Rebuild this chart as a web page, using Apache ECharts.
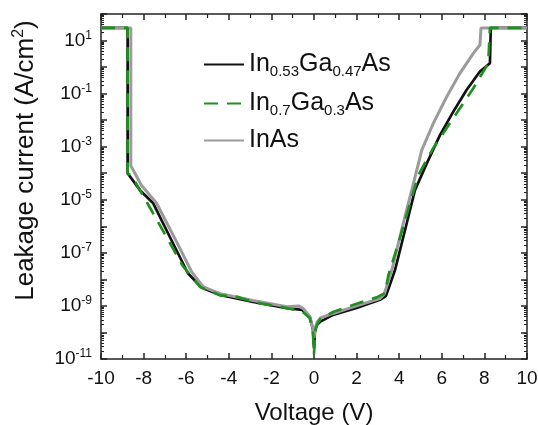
<!DOCTYPE html>
<html>
<head>
<meta charset="utf-8">
<script src="https://cdn.jsdelivr.net/npm/echarts@6/dist/echarts.min.js"></script>
<style>
html, body { margin: 0; padding: 0; background: #fff; }
#chart { width: 538px; height: 425px; }
</style>
</head>
<body>
<div id="chart"></div>
<script>
// leakage current density (A/cm^2) vs voltage (V)
var names = ['In0.53Ga0.47As', 'In0.7Ga0.3As', 'InAs'];

var v053 = [-10, -8.75, -8.75, -8.17, -7.56, -6.62, -5.92, -5.26, -4.41, -2.86, -1.27, -0.56, -0.19, -0.05, 0, 0.05, 0.15, 0.28, 0.89, 2.0, 3.1, 3.38, 3.8, 4.12, 4.43, 4.74, 5.29, 5.92, 6.54, 7.17, 7.79, 8.26, 8.3, 8.3, 10];
var j053 = [30, 30, 1.0e-4, 2.3e-5, 7.6e-6, 2.3e-7, 1.7e-8, 4.8e-9, 2.6e-9, 1.4e-9, 8.3e-10, 7.1e-10, 3.8e-10, 1.3e-10, 2.5e-11, 1.3e-10, 2.0e-10, 2.5e-10, 4.6e-10, 8.3e-10, 1.7e-9, 2.4e-9, 2.2e-8, 2.3e-7, 2.3e-6, 2.3e-5, 2.3e-4, 2.8e-3, 2.1e-2, 1.4e-1, 6.8e-1, 1.4, 1.6, 30, 30];

var v07 = [-10, -8.75, -8.75, -8.53, -7.82, -7.0, -6.16, -5.35, -4.41, -3.6, -2.86, -1.27, -0.56, -0.2, -0.05, 0, 0.05, 0.15, 0.3, 0.89, 2.0, 2.94, 3.33, 3.49, 3.96, 4.51, 4.9, 5.6, 6.46, 7.48, 8.18, 8.26, 8.26, 10];
var j07 = [30, 30, 1.0e-4, 7.4e-5, 7.4e-6, 5.1e-7, 3.2e-8, 5.2e-9, 2.5e-9, 2.2e-9, 1.4e-9, 8.3e-10, 6.3e-10, 3.5e-10, 1.0e-10, 1.5e-11, 1.1e-10, 2.0e-10, 3.2e-10, 5.9e-10, 1.2e-9, 2.1e-9, 3.0e-9, 1.4e-8, 2.3e-7, 7.4e-6, 8.5e-5, 8.9e-4, 9.5e-3, 1.6e-1, 1.4, 1.6, 30, 30];

var vInAs = [-10, -8.6, -8.6, -8.1, -7.39, -6.45, -5.74, -5.2, -4.41, -2.86, -1.27, -0.7, -0.5, -0.2, -0.05, 0, 0.05, 0.15, 0.3, 0.89, 2.0, 3.1, 3.3, 3.65, 3.96, 4.27, 4.59, 5.06, 5.6, 6.23, 6.85, 7.48, 7.79, 7.84, 10];
var jInAs = [30, 30, 1.9e-4, 3.5e-5, 7.4e-6, 2.6e-7, 1.9e-8, 5.2e-9, 2.9e-9, 1.6e-9, 9.3e-10, 1.0e-9, 7.9e-10, 4.0e-10, 1.4e-10, 6.3e-11, 1.4e-10, 2.5e-10, 3.5e-10, 5.2e-10, 1.0e-9, 1.9e-9, 2.8e-9, 2.2e-8, 2.3e-7, 2.3e-6, 2.3e-5, 7.4e-4, 7.6e-3, 7.6e-2, 5.8e-1, 3.3, 6.8, 30, 30];

var xTicks = [-10, -8, -6, -4, -2, 0, 2, 4, 6, 8, 10];

function pairs(xs, ys) {
  return xs.map(function (x, i) { return [x, ys[i]]; });
}

var font = 'Liberation Sans, Arial, sans-serif';
var axisCol = '#222';

var chart = echarts.init(document.getElementById('chart'));

var legendName = function (name) {
  if (name === names[0]) return '{a|In}{s|0.53}{a|Ga}{s|0.47}{a|As}';
  if (name === names[1]) return '{a|In}{s|0.7}{a|Ga}{s|0.3}{a|As}';
  return '{a|InAs}';
};

var yLabel = function (val) {
  var e = Math.round(Math.log10(val));
  if (Math.abs(e) % 2 !== 1) return '';
  return '{b|10}{e|' + e + '}';
};

var commonX = {
  type: 'value', min: xTicks[0], max: xTicks[xTicks.length - 1], interval: 2,
  axisLine: { onZero: false, lineStyle: { color: axisCol, width: 1.5 } },
  axisTick: { inside: true, length: 6, lineStyle: { color: axisCol, width: 1.5 } },
  minorTick: { show: true, splitNumber: 2, length: 4, lineStyle: { color: axisCol, width: 1.2 } },
  splitLine: { show: false }
};
var commonY = {
  type: 'log', logBase: 10, min: 1e-11, max: 1e2, interval: 1,
  axisLine: { onZero: false, lineStyle: { color: axisCol, width: 1.5 } },
  axisTick: { inside: true, length: 6, lineStyle: { color: axisCol, width: 1.5 } },
  minorTick: { show: true, splitNumber: 9, length: 3, lineStyle: { color: axisCol, width: 1 } },
  splitLine: { show: false }
};

var option = {
  animation: false,
  backgroundColor: '#fff',
  textStyle: { fontFamily: font },
  grid: { left: 101, right: 11, top: 14, bottom: 66, containLabel: false, outerBoundsMode: 'none' },
  legend: {
    orient: 'vertical', left: 203, top: 50, padding: 0,
    itemWidth: 40, itemHeight: 14, itemGap: 10,
    icon: 'inherit',
    itemStyle: { color: 'rgba(0,0,0,0)', borderWidth: 0 },
    data: names,
    formatter: legendName,
    textStyle: {
      color: '#111',
      rich: {
        a: { fontSize: 25, lineHeight: 32, fontFamily: font, color: '#111' },
        s: { fontSize: 15, lineHeight: 18, padding: [14, 0, 0, 0], fontFamily: font, color: '#111' }
      }
    }
  },
  xAxis: [
    Object.assign({}, commonX, {
      position: 'bottom',
      name: 'Voltage (V)', nameLocation: 'middle', nameGap: 42,
      nameTextStyle: { fontSize: 24, color: '#111', fontFamily: font },
      axisLabel: { fontSize: 19, color: '#111', margin: 10, fontFamily: font }
    }),
    Object.assign({}, commonX, { position: 'top', axisLabel: { show: false } })
  ],
  yAxis: [
    Object.assign({}, commonY, {
      position: 'left',
      name: '{t|Leakage current (A/cm}{p|2}{t|)}', nameLocation: 'middle', nameGap: 61,
      nameTextStyle: {
        padding: [0, 0, 0, 52],
        rich: {
          t: { fontSize: 26, color: '#111', fontFamily: font },
          p: { fontSize: 16, padding: [0, 0, 13, 0], color: '#111', fontFamily: font }
        }
      },
      axisLabel: {
        margin: 9, formatter: yLabel,
        rich: {
          b: { fontSize: 19, color: '#111', fontFamily: font },
          e: { fontSize: 12, padding: [0, 0, 10, 0], color: '#111', fontFamily: font }
        }
      }
    }),
    Object.assign({}, commonY, { position: 'right', axisLabel: { show: false } })
  ],
  series: [
    {
      name: names[0], type: 'line', symbol: 'none', z: 2,
      lineStyle: { color: '#111', width: 2.7 }, itemStyle: { color: '#111' },
      data: pairs(v053, j053)
    },
    {
      name: names[2], type: 'line', symbol: 'none', z: 3,
      lineStyle: { color: '#9b9b9b', width: 3 }, itemStyle: { color: '#9b9b9b' },
      data: pairs(vInAs, jInAs)
    },
    {
      name: names[1], type: 'line', symbol: 'none', z: 4,
      lineStyle: { color: '#1f8f1f', width: 2.7, type: [14, 9] }, itemStyle: { color: '#1f8f1f' },
      data: pairs(v07, j07)
    }
  ]
};

chart.setOption(option);
</script>
</body>
</html>
